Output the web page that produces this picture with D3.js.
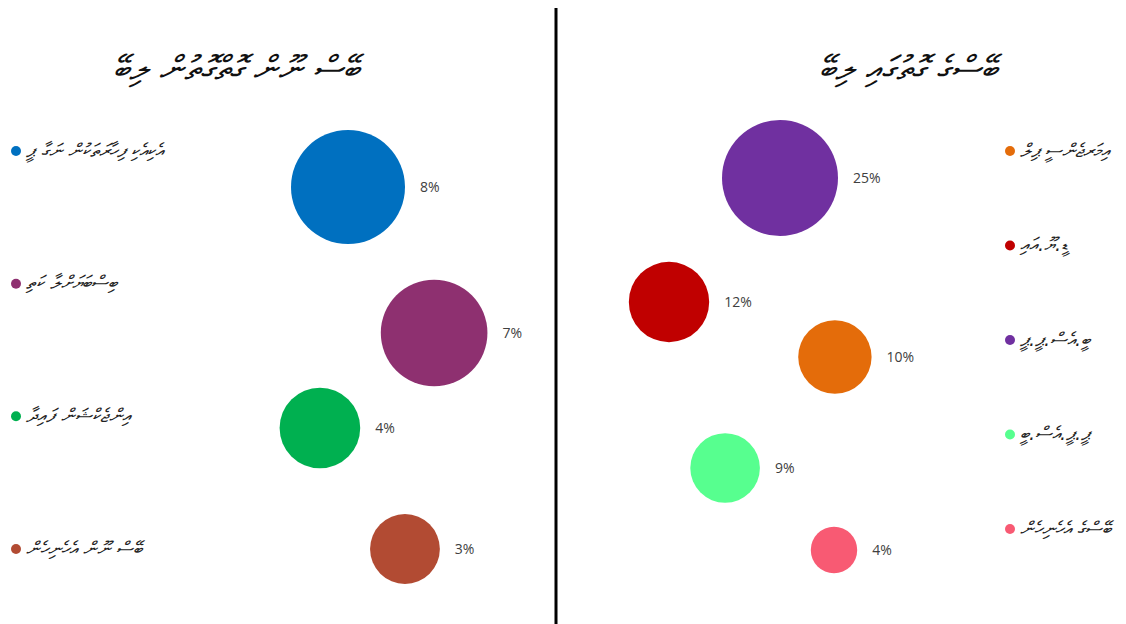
<!DOCTYPE html>
<html>
<head>
<meta charset="utf-8">
<script src="https://cdn.jsdelivr.net/npm/d3@7"></script>
<style>
  html, body { margin: 0; padding: 0; background: #ffffff; }
  svg { display: block; }
  .pct { font-family: "Open Sans", "DejaVu Sans", sans-serif; font-size: 14px; fill: #404040; }
  .ttl { font-family: "DejaVu Sans", "Noto Sans", sans-serif; font-size: 34px; fill: #111; font-style: italic; }
  .leg { font-family: "DejaVu Sans", "Noto Sans", sans-serif; font-size: 19px; fill: #222; font-style: italic; }
</style>
</head>
<body>
<script>
// ---------- Data ----------
const leftTitle = "ބޭސް ނޫން ގޮތްގޮތުން ލިބޭ";
const rightTitle = "ބޭސްގެ ގޮތުގައި ލިބޭ";

const leftCategories = [
  "އެކިއެކި ފިހާރަތަކުން ނަގާ ޕީ",
  "ބިސްބަޔަށްލާ ކަތި",
  "އިންޖެކްޝަން ފައިދާ",
  "ބޭސް ނޫން އެހެނިހެން"
];
const leftValues = [8, 7, 4, 3];
const leftX = [4.37, 7.56, 3.33, 6.48];
const leftY = [8.26, 5.34, 3.44, 1.02];
const leftColors = ["#0070C0", "#8E3070", "#00B050", "#B24B33"];

const rightCategories = [
  "އިމަރޖެންސީ ޕިލް",
  "ޑީ.ޔޫ.އައި",
  "ބީ.އެސް.ޕީ.ޕީ",
  "ޕީ.ޕީ.އެސް.ބީ",
  "ބޭސްގެ އެހެނިހެން"
];
const rightValues = [10, 12, 25, 9, 4];
const rightX = [7.83, 2.30, 6.00, 4.17, 7.80];
const rightY = [4.86, 5.96, 8.44, 2.64, 1.00];
const rightColors = ["#E46C0A", "#C00000", "#7030A0", "#57FF8F", "#F85A73"];

// ---------- Drawing ----------
const W = 1126, H = 624;
const svg = d3.select("body").append("svg").attr("width", W).attr("height", H);

// divider
svg.append("line").attr("x1", 556).attr("x2", 556).attr("y1", 8).attr("y2", H)
  .attr("stroke", "#000").attr("stroke-width", 3);

function panel(cfg) {
  const g = svg.append("g");
  const x = d3.scaleLinear().domain([0, 10]).range(cfg.xRange);
  const y = d3.scaleLinear().domain([0, 10]).range([600, 100]);
  const r = d3.scaleSqrt().domain([0, d3.max(cfg.values)]).range([0, cfg.rMax]);

  g.append("text").attr("class", "ttl")
    .attr("x", cfg.titleX).attr("y", 80).attr("text-anchor", "middle")
    .text(cfg.title);

  const data = cfg.values.map((v, i) => ({v, x: cfg.xs[i], y: cfg.ys[i], c: cfg.colors[i]}));
  const b = g.selectAll(".b").data(data).join("g");
  b.append("circle")
    .attr("cx", d => x(d.x)).attr("cy", d => y(d.y)).attr("r", d => r(d.v))
    .attr("fill", d => d.c);
  b.append("text").attr("class", "pct")
    .attr("x", d => x(d.x) + r(d.v) + 15).attr("y", d => y(d.y)).attr("dy", "0.35em")
    .text(d => d.v + "%");

  const ly = d3.scalePoint().domain(d3.range(cfg.cats.length)).range(cfg.legY);
  const lg = g.selectAll(".lg").data(cfg.cats).join("g")
    .attr("transform", (d, i) => `translate(${cfg.legX},${ly(i)})`);
  lg.append("circle").attr("r", 5).attr("fill", (d, i) => cfg.colors[i]);
  lg.append("text").attr("class", "leg").attr("x", 10).attr("dy", "0.3em")
    .attr("text-anchor", "start").text(d => d);
}

panel({
  title: leftTitle, titleX: 236, xRange: [230, 500], rMax: 57,
  values: leftValues, xs: leftX, ys: leftY, colors: leftColors,
  cats: leftCategories, legX: 16, legY: [151, 549]
});
panel({
  title: rightTitle, titleX: 908, xRange: [600, 900], rMax: 58,
  values: rightValues, xs: rightX, ys: rightY, colors: rightColors,
  cats: rightCategories, legX: 1010, legY: [151, 529]
});
</script>
</body>
</html>
